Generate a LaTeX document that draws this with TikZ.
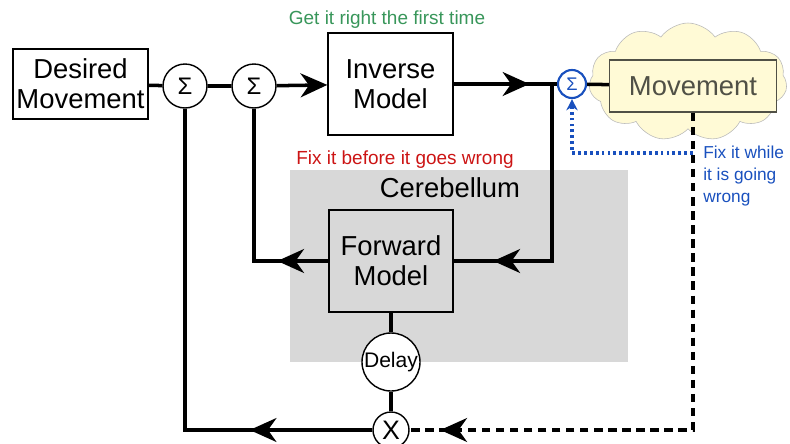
\documentclass[tikz,border=0pt]{standalone}
\usepackage{fontspec}
\setmainfont{Liberation Sans}
\usetikzlibrary{arrows.meta,decorations.markings,shapes.symbols}
\definecolor{getGreen}{RGB}{56,150,90}
\definecolor{fixRed}{RGB}{204,20,20}
\definecolor{fixBlue}{RGB}{25,80,190}
\definecolor{cerebGray}{RGB}{216,216,216}
\definecolor{cloudFill}{RGB}{255,250,214}
\definecolor{moveText}{RGB}{80,80,70}
\newcommand{\px}{0.025cm}
\newcommand{\bigText}{\fontsize{19.5}{21.5}\selectfont}
\newcommand{\smallText}{\fontsize{13.5}{15.5}\selectfont}
\tikzset{
	blockbox/.style={draw, line width=1pt, align=center, font=\bigText, inner sep=0pt},
	sumnode/.style={draw, circle, line width=1pt, fill=white, minimum size=44*\px, inner sep=0pt, font=\fontsize{17}{17}\selectfont},
	signal/.style={line width=2.5pt},
	midarrow/.style={postaction={decorate}, decoration={markings, mark=at position #1 with {\arrow{Stealth[length=19pt,width=17pt,inset=6pt]}}}},
}

\begin{document}
\begin{tikzpicture}[x=0.025cm, y=-0.025cm]
	\useasboundingbox (0,0) rectangle (790,443);
	
	% cerebellum background
	\node[fill=cerebGray, minimum width=338*\px, minimum height=192*\px, inner sep=0pt] (cereb) at (459,266) {};
	\node[font=\bigText] (cerebLabel) at (450,188) {Cerebellum};
	
	% cloud with movement
	\node[cloud, cloud puffs=11, cloud puff arc=110, aspect=1.8, draw=gray!55, fill=cloudFill, minimum width=198*\px, minimum height=118*\px] (cloud) at (688,82) {};
	\node[blockbox, draw=moveText, fill=cloudFill, text=moveText, minimum width=167*\px, minimum height=52*\px] (move) at (693,86) {Movement};
	
	% blocks
	\node[blockbox, minimum width=135*\px, minimum height=70*\px] (desired) at (80.5,84) {Desired\\Movement};
	\node[sumnode] (sigA) at (185,86) {Σ};
	\node[sumnode] (sigB) at (254,86) {Σ};
	\node[blockbox, minimum width=125*\px, minimum height=102*\px] (inv) at (390.5,84) {Inverse\\Model};
	\node[blockbox, fill=cerebGray, minimum width=124*\px, minimum height=102*\px] (fwd) at (391,261) {Forward\\Model};
	\node[sumnode, minimum size=58*\px, font=\fontsize{15}{15}\selectfont] (delay) at (391,362) {Delay};
	\node[sumnode, minimum size=36*\px, font=\fontsize{19}{19}\selectfont] (mult) at (391,430) {X};
	\node[sumnode, draw=fixBlue, text=fixBlue, line width=1.5pt, minimum size=28*\px, font=\fontsize{13}{13}\selectfont] (sigC) at (572,84) {Σ};
	
	% labels
	\node[font=\smallText, text=getGreen] (getLabel) at (387,20) {Get it right the first time};
	\node[font=\smallText, text=fixRed] (fixLabel) at (405,160) {Fix it before it goes wrong};
	\node[font=\fontsize{12.3}{15.5}\selectfont, text=fixBlue, align=left, anchor=north west, inner sep=0pt] (whileLabel) at (703,146) {Fix it while\\it is going\\wrong};
	
	\coordinate (split) at (552,84);
	\coordinate (fixpt) at (693,153);
	
	% signals
	\draw[signal] (desired) -- (sigA) -- (sigB);
	\draw[signal, -{Stealth[length=19pt,width=17pt,inset=6pt]}] (sigB) -- (inv);
	\draw[signal, midarrow=0.733] (inv.east) -- (sigC.west);
	\draw[signal] (sigC) -- (move);
	\draw[signal, midarrow=0.856] (split) |- (fwd.east);
	\draw[signal, midarrow=0.225] (fwd.west) -| (sigB.south);
	\draw[signal] (fwd) -- (delay) -- (mult);
	\draw[signal, midarrow=0.241] (mult.west) -| (sigA.south);
	\draw[signal, line width=2.3pt, dash pattern=on 6pt off 4pt, midarrow=0.949] (move.south) |- (mult.east);
	\draw[fixBlue, line width=2.6pt, dash pattern=on 2pt off 2.2pt, -{Stealth[length=8pt,width=8pt]}] (fixpt) -| (sigC.south);
\end{tikzpicture}
\end{document}
